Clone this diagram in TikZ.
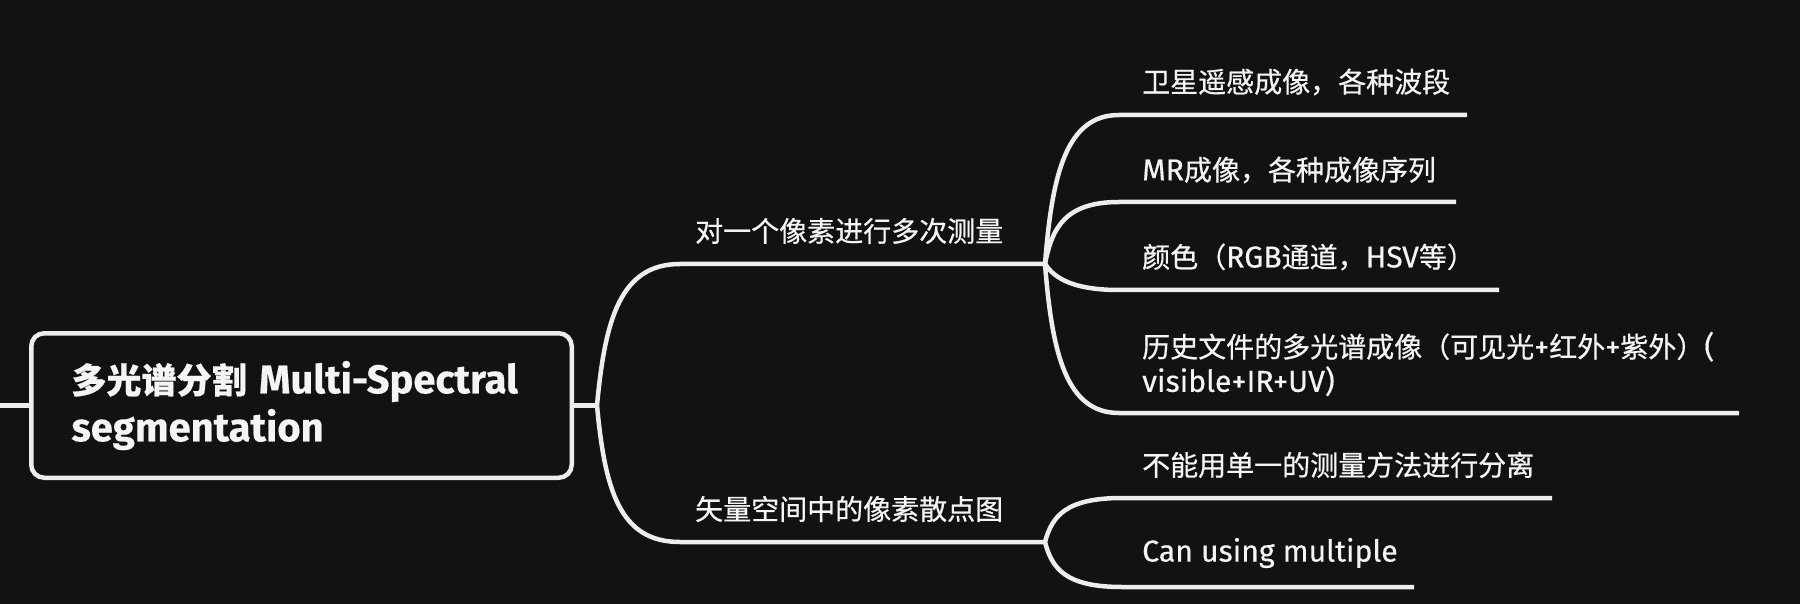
\documentclass[tikz,border=0pt]{standalone}
\usepackage{fontspec}
\setmainfont{Fira Sans}[Scale=1.08,FakeBold=0.4]
\newfontfamily\cjk{Noto Sans CJK SC}[FakeBold=0.6]
\definecolor{bg}{HTML}{121212}
\definecolor{ln}{HTML}{EDEDED}
\definecolor{tx}{HTML}{F4F4F4}
\begin{document}
\begin{tikzpicture}[x=1pt,y=-1pt,
  conn/.style={draw=ln,line width=4.5pt},
  lbl/.style={anchor=west,inner sep=0pt,text=tx,align=left,font=\fontsize{28}{34.5}\selectfont},
  rootbox/.style={draw=ln,line width=4.5pt,rounded corners=13pt,fill=bg,minimum width=540.5pt,minimum height=144.5pt,text width=460pt,align=left,text=tx,inner sep=0pt,font=\bfseries\fontsize{35}{48}\selectfont}]
\fill[bg] (0,0) rectangle (1800,604);
\useasboundingbox (0,0) rectangle (1800,604);
% nodes
\node[rootbox] (root) at (301.5,405.5) {{\cjk 多光谱分割} {\fontsize{37}{48}\selectfont Multi-Spectral}\\{\fontsize{37}{48}\selectfont segmentation}};
\node[lbl] (t1) at (695,231) {{\cjk 对一个像素进行多次测量}};
\node[lbl] (t2) at (695,509) {{\cjk 矢量空间中的像素散点图}};
\node[lbl] (s1) at (1142,82) {{\cjk 卫星遥感成像，各种波段}};
\node[lbl] (s2) at (1142,170) {MR{\cjk 成像，各种成像序列}};
\node[lbl] (s3) at (1142,257) {{\cjk 颜色（}RGB{\cjk 通道，}HSV{\cjk 等）}};
\node[lbl] (s4) at (1142,364) {{\cjk 历史文件的多光谱成像（可见光}+{\cjk 红外}+{\cjk 紫外）}(\\visible+IR+UV)};
\node[lbl] (s5) at (1142,465) {{\cjk 不能用单一的测量方法进行分离}};
\node[lbl] (s6) at (1142,553) {Can using multiple};
% coordinates
\coordinate (stub) at (0,405.5);
\coordinate (j1) at (597,405.5);
\coordinate (a1) at (680,264);  \coordinate (b1) at (1045,264);
\coordinate (a2) at (680,542);  \coordinate (b2) at (1045,542);
\coordinate (c1) at (1119,115); \coordinate (d1) at (1467,115);
\coordinate (c2) at (1119,202); \coordinate (d2) at (1456,202);
\coordinate (c3) at (1119,290); \coordinate (d3) at (1499,290);
\coordinate (c4) at (1119,413); \coordinate (d4) at (1739,413);
\coordinate (c5) at (1122,498); \coordinate (d5) at (1552,498);
\coordinate (c6) at (1122,587); \coordinate (d6) at (1414,587);
% connectors
\draw[conn] (stub) -- (root.west);
\draw[conn] (root.east) -- (j1);
\draw[conn] (j1) .. controls (605,320) and (620,264) .. (a1) -- (b1);
\draw[conn] (j1) .. controls (605,491) and (620,542) .. (a2) -- (b2);
\draw[conn] (b1) .. controls (1052,175) and (1066,115) .. (c1) -- (d1);
\draw[conn] (b1) .. controls (1052,227) and (1066,202) .. (c2) -- (d2);
\draw[conn] (b1) .. controls (1052,274) and (1066,290) .. (c3) -- (d3);
\draw[conn] (b1) .. controls (1052,353) and (1066,413) .. (c4) -- (d4);
\draw[conn] (b2) .. controls (1052,516) and (1066,498) .. (c5) -- (d5);
\draw[conn] (b2) .. controls (1052,569) and (1066,587) .. (c6) -- (d6);
\end{tikzpicture}
\end{document}
